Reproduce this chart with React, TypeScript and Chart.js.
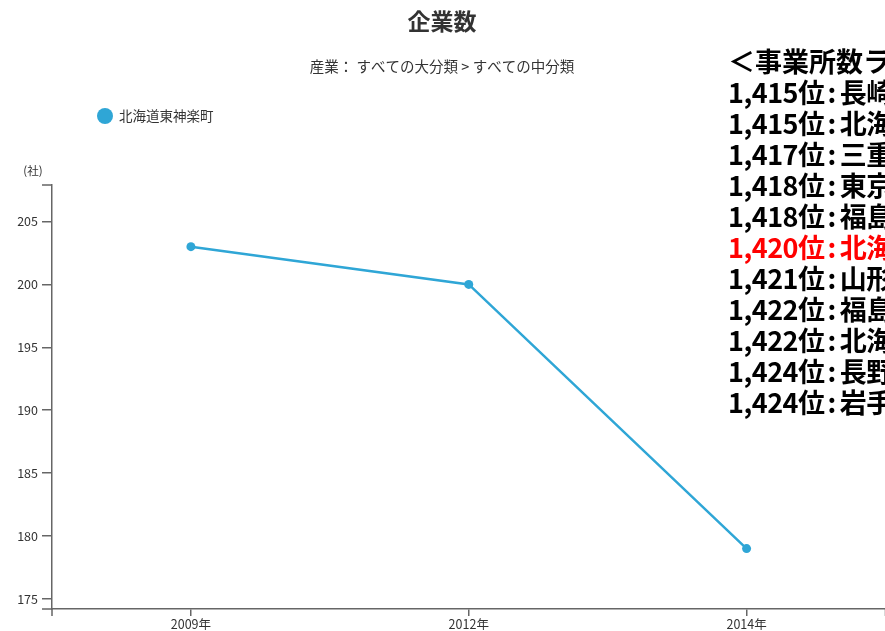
import React, { useEffect, useRef } from "react";
import { Chart, registerables } from "chart.js";

Chart.register(...registerables);

// ---- data ----
const categories = ["2009年", "2012年", "2014年"];
const seriesName = "北海道東神楽町";
const values = [203, 200, 179];
const yTicks = [175, 180, 185, 190, 195, 200, 205];
const yMin = 174.2;
const yMax = 207.9;
const chartTitle = "企業数";
const chartSubtitle = "産業： すべての大分類 > すべての中分類";
const unitLabel = "(社)";
const rankingHeader = "＜事業所数ランキング＞";
const rankingRanks = ["1,415位", "1,415位", "1,417位", "1,418位", "1,418位", "1,420位", "1,421位", "1,422位", "1,422位", "1,424位", "1,424位"];
const rankingNames = ["長崎県", "北海道", "三重県", "東京都", "福島県", "北海道", "山形県", "福島県", "北海道", "長野県", "岩手県"];
const highlightIndex = 5;

const FONT = "'Noto Sans CJK JP', 'Noto Sans', sans-serif";
const LINE_COLOR = "#2fa6d6";
const AXIS_COLOR = "#666666";
const TEXT_COLOR = "#333333";

const decorPlugin = {
  id: "decor",
  afterDraw(chart: any) {
    const ctx = chart.ctx as CanvasRenderingContext2D;
    const { left, top, bottom, right } = chart.chartArea;
    ctx.save();
    // title
    ctx.fillStyle = TEXT_COLOR;
    ctx.textAlign = "center";
    ctx.textBaseline = "middle";
    ctx.font = `bold 23px ${FONT}`;
    ctx.fillText(chartTitle, 442, 21);
    // subtitle
    ctx.font = `14.5px ${FONT}`;
    ctx.fillText(chartSubtitle, 442, 66);
    // legend
    ctx.beginPath();
    ctx.arc(105, 116, 8, 0, Math.PI * 2);
    ctx.fillStyle = LINE_COLOR;
    ctx.fill();
    ctx.fillStyle = TEXT_COLOR;
    ctx.textAlign = "left";
    ctx.font = `13.5px ${FONT}`;
    ctx.fillText(seriesName, 119, 116);
    // unit
    ctx.textAlign = "center";
    ctx.font = `11.5px ${FONT}`;
    ctx.fillText(unitLabel, 33, 171);
    // outer ticks
    ctx.strokeStyle = AXIS_COLOR;
    ctx.lineWidth = 1.5;
    ctx.beginPath();
    ctx.moveTo(left - 10, top);
    ctx.lineTo(left, top);
    ctx.moveTo(left - 10, bottom);
    ctx.lineTo(left, bottom);
    ctx.moveTo(left, bottom);
    ctx.lineTo(left, bottom + 7);
    ctx.moveTo(right, bottom);
    ctx.lineTo(right, bottom + 7);
    ctx.stroke();
    ctx.restore();
  },
};

function LineChart() {
  const ref = useRef<HTMLCanvasElement | null>(null);
  useEffect(() => {
    if (!ref.current) return;
    const chart = new Chart(ref.current, {
      type: "line",
      data: {
        labels: categories,
        datasets: [
          {
            label: seriesName,
            data: values,
            borderColor: LINE_COLOR,
            backgroundColor: LINE_COLOR,
            borderWidth: 2.5,
            pointRadius: 4.5,
            pointBorderWidth: 0,
            pointBackgroundColor: LINE_COLOR,
            tension: 0,
          },
        ],
      },
      options: {
        responsive: false,
        animation: false,
        layout: { padding: { top: 185, right: 2, left: 0, bottom: 0 } },
        plugins: {
          legend: { display: false },
          title: { display: false },
          tooltip: { enabled: false },
        },
        scales: {
          x: {
            offset: true,
            grid: {
              offset: false,
              drawOnChartArea: false,
              drawTicks: true,
              tickLength: 7,
              color: AXIS_COLOR,
              lineWidth: 1.5,
            },
            border: { display: true, color: AXIS_COLOR, width: 1.5 },
            ticks: {
              color: TEXT_COLOR,
              font: { family: FONT, size: 12.5 },
              padding: 1,
              maxRotation: 0,
            },
            afterFit: (s: any) => {
              s.height = 22;
            },
          },
          y: {
            min: yMin,
            max: yMax,
            grid: {
              drawOnChartArea: false,
              drawTicks: true,
              tickLength: 10,
              color: AXIS_COLOR,
              lineWidth: 1.5,
            },
            border: { display: true, color: AXIS_COLOR, width: 1.5 },
            ticks: {
              color: TEXT_COLOR,
              font: { family: FONT, size: 12.5 },
              padding: 4,
            },
            afterBuildTicks: (s: any) => {
              s.ticks = yTicks.map((v) => ({ value: v }));
            },
            afterFit: (s: any) => {
              s.width = 52;
            },
          },
        },
      },
      plugins: [decorPlugin],
    });
    return () => chart.destroy();
  }, []);
  return <canvas ref={ref} width={890} height={631} style={{ display: "block", width: 890, height: 631 }} />;
}

export default function App() {
  return (
    <div
      style={{
        position: "fixed",
        left: 0,
        top: 0,
        width: 885,
        height: 631,
        overflow: "hidden",
        background: "#ffffff",
      }}
    >
      <LineChart />
      <div
        style={{
          position: "absolute",
          left: 728,
          top: 45,
          whiteSpace: "nowrap",
          fontFamily: FONT,
          fontWeight: 700,
          fontSize: 27,
          lineHeight: "31px",
          color: "#000000",
        }}
      >
        <div>{rankingHeader}</div>
        {rankingRanks.map((r, i) => (
          <div key={i} style={{ color: i === highlightIndex ? "#ff0000" : "#000000", letterSpacing: "-0.5px" }}>
            {r}
            <span style={{ margin: "0 4px 0 3px" }}>:</span>
            {rankingNames[i]}
          </div>
        ))}
      </div>
    </div>
  );
}
